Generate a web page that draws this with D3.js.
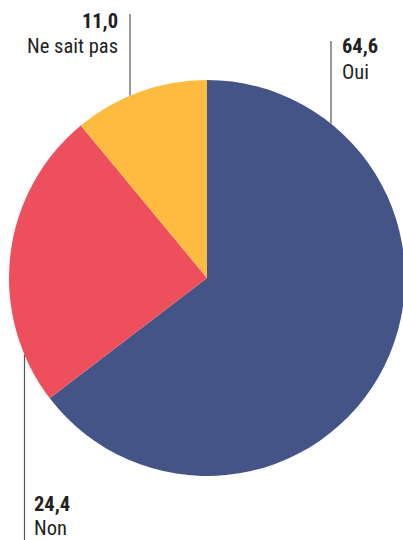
<!DOCTYPE html>
<html>
<head>
<meta charset="utf-8">
<script src="https://cdn.jsdelivr.net/npm/d3@7"></script>
<style>
  html, body { margin: 0; padding: 0; background: #fff; }
  svg { display: block; }
  text { font-family: "Liberation Sans Narrow", "Roboto Condensed", "Liberation Sans", sans-serif; fill: #231f20; font-size: 20.5px; }
  .val { font-weight: bold; }
</style>
</head>
<body>
<svg id="chart" width="403" height="540"></svg>
<script>
// Survey answers, in drawing order (clockwise from 12 o'clock)
const categories = ["Oui", "Non", "Ne sait pas"];
const values = [64.6, 24.4, 11.0];
const valueLabels = ["64,6", "24,4", "11,0"];
const colors = ["#445487", "#ee4f5c", "#fdbb40"];

const svg = d3.select("#chart");
const cx = 207, cy = 278, r = 198;

const pie = d3.pie().sort(null).value(d => d)(values);
const arc = d3.arc().innerRadius(0).outerRadius(r);

const g = svg.append("g").attr("transform", `translate(${cx},${cy})`);
g.selectAll("path")
  .data(pie)
  .join("path")
  .attr("d", arc)
  .attr("fill", (d, i) => colors[i]);

// Label placement: leader x, end of the rule away from the pie, text position
const labels = [
  { i: 0, x: 331, side: "top", end: 41, anchor: "start", tx: 342, ty1: 53, ty2: 79 },
  { i: 1, x: 24.5, side: "bottom", end: 540, anchor: "start", tx: 34, ty1: 511, ty2: 535 },
  { i: 2, x: 130, side: "top", end: 14, anchor: "end", tx: 118, ty1: 28, ty2: 53 }
];

labels.forEach(l => {
  const dx = l.x - cx;
  const dy = Math.sqrt(r * r - dx * dx);
  const edgeY = l.side === "top" ? cy - dy : cy + dy;
  svg.append("line")
    .attr("x1", l.x).attr("x2", l.x)
    .attr("y1", l.end).attr("y2", edgeY)
    .attr("stroke", "#555").attr("stroke-width", 1.2);
  svg.append("text").attr("class", "val")
    .attr("x", l.tx).attr("y", l.ty1)
    .attr("text-anchor", l.anchor)
    .text(valueLabels[l.i]);
  svg.append("text")
    .attr("x", l.tx).attr("y", l.ty2)
    .attr("text-anchor", l.anchor)
    .text(categories[l.i]);
});
</script>
</body>
</html>
